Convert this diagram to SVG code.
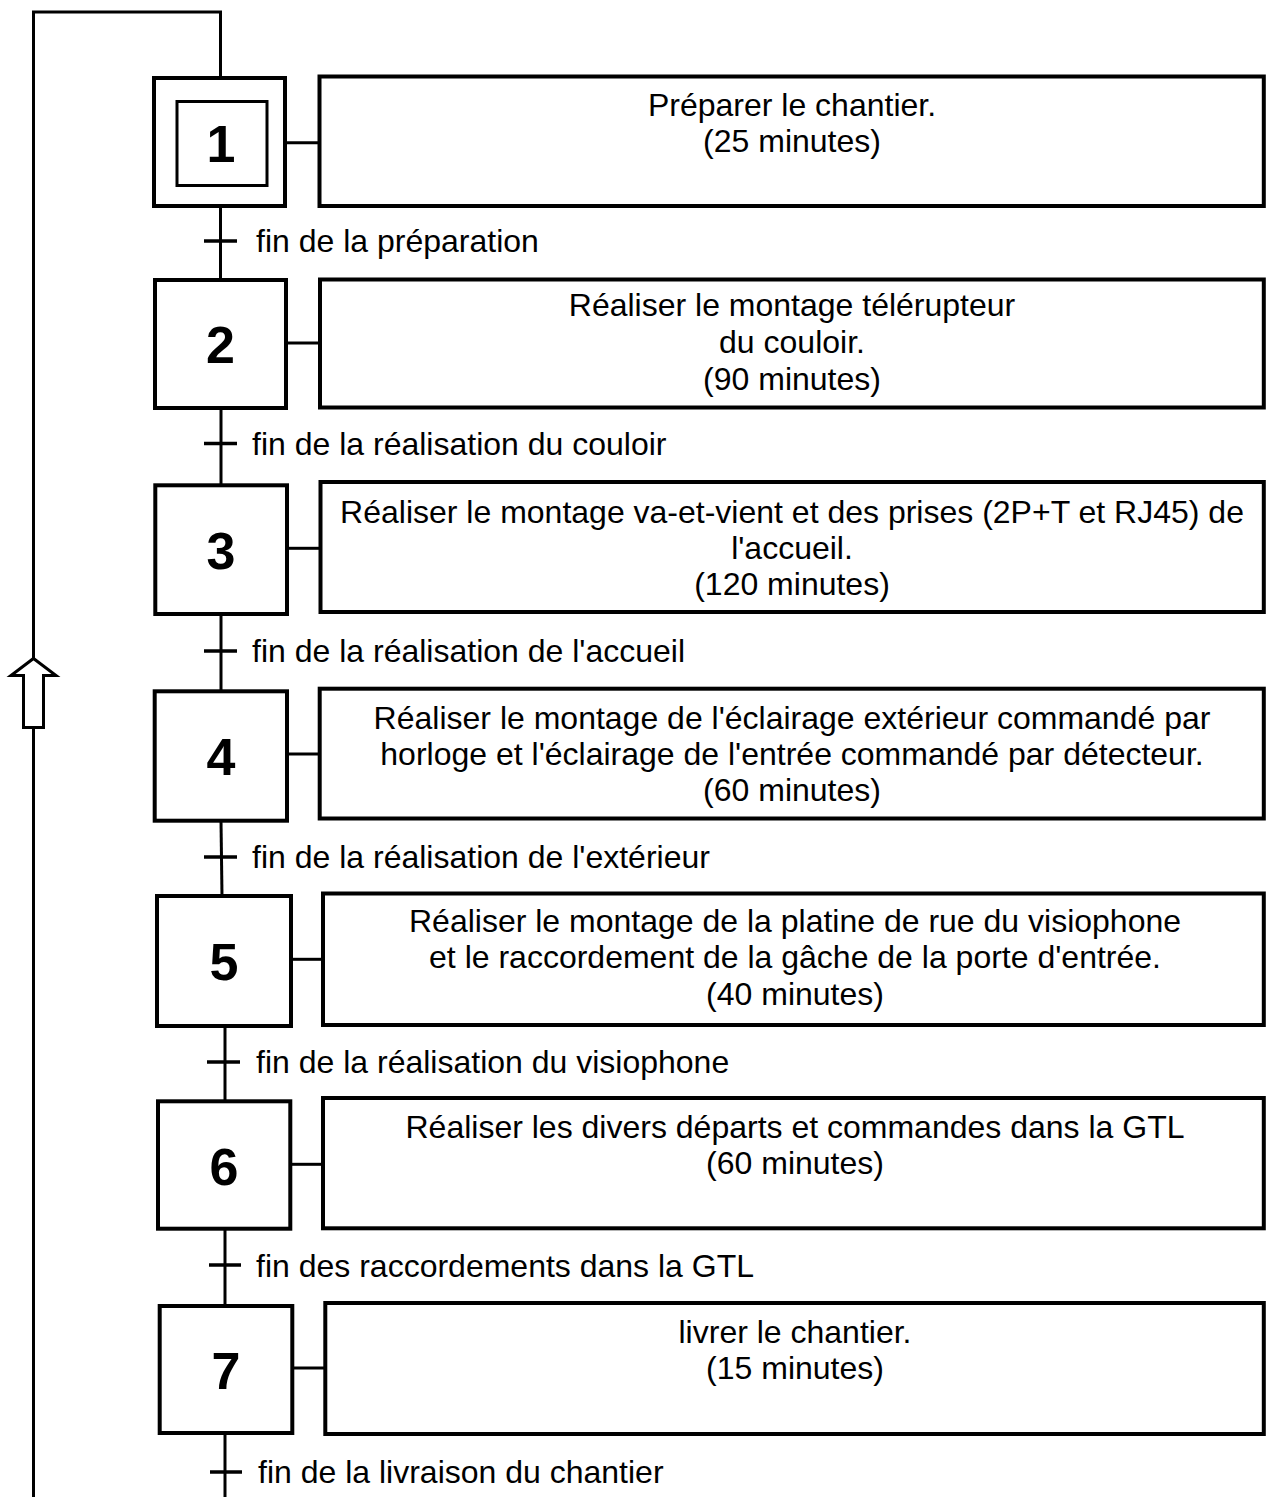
<svg xmlns="http://www.w3.org/2000/svg" width="1266" height="1497" viewBox="0 0 1266 1497">
<style>
.step{fill:#fff;stroke:#000;stroke-width:4}
.act{fill:#fff;stroke:#000;stroke-width:4}
.ln{fill:none;stroke:#000;stroke-width:3}
.tk{fill:none;stroke:#000;stroke-width:3.5}
.num{font-family:"Liberation Sans",Arial,sans-serif;font-weight:bold;font-size:52px;text-anchor:middle;fill:#000}
.t{font-family:"Liberation Sans",Arial,sans-serif;font-size:32px;fill:#000}
.c{text-anchor:middle}
</style>
<rect width="1266" height="1497" fill="#fff"/>
<g id="connectors">
<polyline class="ln" points="33.5,1497 33.5,12 220.5,12 220.5,77"/>
<line class="ln" x1="220.5" y1="206" x2="220.5" y2="280"/>
<line class="ln" x1="221" y1="408" x2="221" y2="485"/>
<line class="ln" x1="221" y1="614" x2="221" y2="691"/>
<line class="ln" x1="221" y1="821" x2="222" y2="896"/>
<line class="ln" x1="225" y1="1026" x2="225" y2="1101"/>
<line class="ln" x1="225" y1="1229" x2="225" y2="1306"/>
<line class="ln" x1="225" y1="1433" x2="225" y2="1497"/>
<line class="tk" x1="204" y1="241" x2="237" y2="241"/>
<line class="tk" x1="204" y1="443.5" x2="237" y2="443.5"/>
<line class="tk" x1="204" y1="651" x2="237" y2="651"/>
<line class="tk" x1="204" y1="857" x2="237" y2="857"/>
<line class="tk" x1="207" y1="1062" x2="240" y2="1062"/>
<line class="tk" x1="209" y1="1265" x2="241" y2="1265"/>
<line class="tk" x1="210" y1="1472" x2="242" y2="1472"/>
<line class="ln" x1="287" y1="142.7" x2="319.5" y2="142.7"/>
<line class="ln" x1="288" y1="343" x2="320" y2="343"/>
<line class="ln" x1="289" y1="548.3" x2="320.5" y2="548.3"/>
<line class="ln" x1="289" y1="754" x2="319.7" y2="754"/>
<line class="ln" x1="293" y1="959.3" x2="323" y2="959.3"/>
<line class="ln" x1="292" y1="1164.3" x2="323" y2="1164.3"/>
<line class="ln" x1="294" y1="1368" x2="325.3" y2="1368"/>
<polygon points="33.5,658.5 56,675.5 43.5,675.5 43.5,727.5 23.5,727.5 23.5,675.5 11,675.5" fill="#fff" stroke="#000" stroke-width="3"/>
<text class="t" x="256" y="252">fin de la préparation</text>
<text class="t" x="252" y="455">fin de la réalisation du couloir</text>
<text class="t" x="252" y="662">fin de la réalisation de l'accueil</text>
<text class="t" x="252" y="868">fin de la réalisation de l'extérieur</text>
<text class="t" x="256" y="1073">fin de la réalisation du visiophone</text>
<text class="t" x="256" y="1277">fin des raccordements dans la GTL</text>
<text class="t" x="258" y="1483">fin de la livraison du chantier</text>
</g>
<g id="step1">
<rect class="step" x="154" y="78" width="131" height="128"/>
<rect x="177" y="101.5" width="90" height="84" fill="none" stroke="#000" stroke-width="3"/>
<text class="num" x="221" y="162">1</text>
</g>
<g id="action1">
<rect class="act" x="319.5" y="76.5" width="944.3" height="129.5"/>
<text class="t c" x="792" y="116">Préparer le chantier.</text>
<text class="t c" x="792" y="152">(25 minutes)</text>
</g>
<g id="step2">
<rect class="step" x="155" y="280" width="131" height="128"/>
<text class="num" x="220.5" y="363">2</text>
</g>
<g id="action2">
<rect class="act" x="320" y="279.5" width="943.8" height="128"/>
<text class="t c" x="792" y="316">Réaliser le montage télérupteur</text>
<text class="t c" x="792" y="353">du couloir.</text>
<text class="t c" x="792" y="390">(90 minutes)</text>
</g>
<g id="step3">
<rect class="step" x="155.3" y="485.3" width="131.7" height="128.7"/>
<text class="num" x="221" y="569">3</text>
</g>
<g id="action3">
<rect class="act" x="320.5" y="482" width="943.3" height="130"/>
<text class="t c" x="792" y="523">Réaliser le montage va-et-vient et des prises (2P+T et RJ45) de</text>
<text class="t c" x="792" y="559">l'accueil.</text>
<text class="t c" x="792" y="595">(120 minutes)</text>
</g>
<g id="step4">
<rect class="step" x="154.7" y="691.3" width="132.3" height="129.4"/>
<text class="num" x="221" y="775">4</text>
</g>
<g id="action4">
<rect class="act" x="319.7" y="688.7" width="944.1" height="129.8"/>
<text class="t c" x="792" y="729">Réaliser le montage de l'éclairage extérieur commandé par</text>
<text class="t c" x="792" y="765">horloge et l'éclairage de l'entrée commandé par détecteur.</text>
<text class="t c" x="792" y="801">(60 minutes)</text>
</g>
<g id="step5">
<rect class="step" x="157" y="896" width="134" height="130"/>
<text class="num" x="224" y="980">5</text>
</g>
<g id="action5">
<rect class="act" x="323" y="893.5" width="940.8" height="131.5"/>
<text class="t c" x="795" y="932">Réaliser le montage de la platine de rue du visiophone</text>
<text class="t c" x="795" y="968">et le raccordement de la gâche de la porte d'entrée.</text>
<text class="t c" x="795" y="1005">(40 minutes)</text>
</g>
<g id="step6">
<rect class="step" x="158" y="1101.3" width="132.3" height="127.4"/>
<text class="num" x="224" y="1185">6</text>
</g>
<g id="action6">
<rect class="act" x="323" y="1098" width="940.8" height="130.3"/>
<text class="t c" x="795" y="1138">Réaliser les divers départs et commandes dans la GTL</text>
<text class="t c" x="795" y="1174">(60 minutes)</text>
</g>
<g id="step7">
<rect class="step" x="159.7" y="1306" width="132.6" height="127"/>
<text class="num" x="226" y="1389">7</text>
</g>
<g id="action7">
<rect class="act" x="325.3" y="1303" width="938.5" height="131"/>
<text class="t c" x="795" y="1343">livrer le chantier.</text>
<text class="t c" x="795" y="1379">(15 minutes)</text>
</g>
</svg>
